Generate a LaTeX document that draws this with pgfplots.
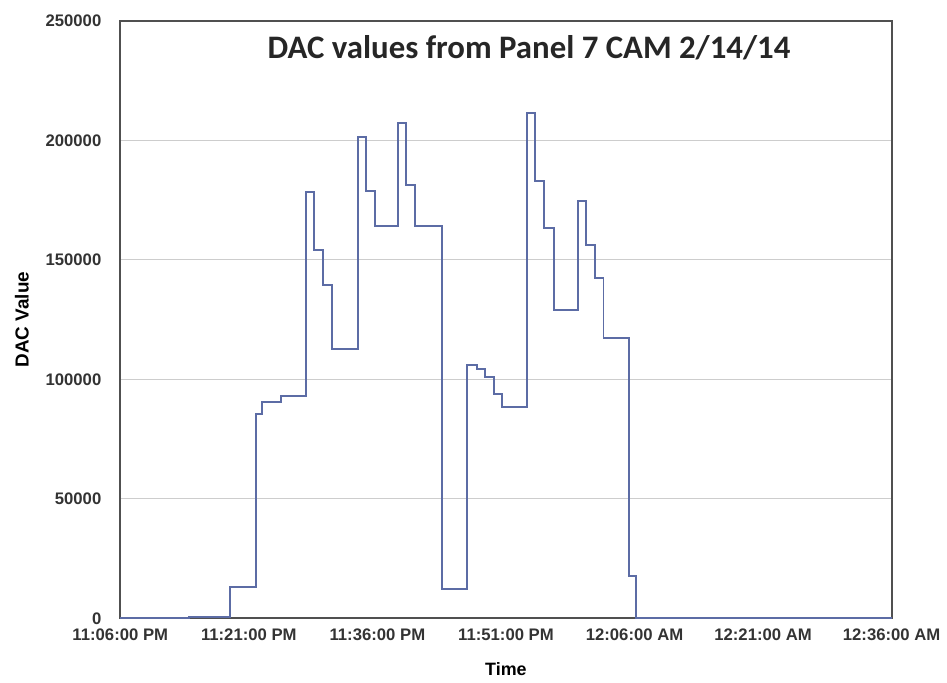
\documentclass[border=0pt]{standalone}
\usepackage{pgfplots}
\pgfplotsset{compat=1.18}
\usepackage{fontspec}
\setmainfont{Liberation Sans}
\newfontfamily\titlefont{Carlito}
\definecolor{dacline}{RGB}{92,108,165}
\definecolor{framegray}{RGB}{80,80,80}
\definecolor{gridgray}{RGB}{205,205,205}
\begin{document}
\begin{tikzpicture}
\begin{axis}[
  scale only axis,
  width=388pt, height=300.5pt,
  xmin=0, xmax=90, ymin=0, ymax=250000,
  xtick={0,15,30,45,60,75,90},
  xticklabels={11:06:00 PM,11:21:00 PM,11:36:00 PM,11:51:00 PM,12:06:00 AM,12:21:00 AM,12:36:00 AM},
  ytick={0,50000,100000,150000,200000,250000},
  yticklabels={0,50000,100000,150000,200000,250000},
  scaled y ticks=false,
  major tick length=0pt,
  ymajorgrids,
  grid style={gridgray, line width=0.5pt},
  axis line style={framegray, line width=1pt},
  xticklabel style={font=\fontsize{8.4}{10}\selectfont\bfseries, text=black!80, yshift=-2pt},
  yticklabel style={font=\fontsize{8.4}{10}\selectfont\bfseries, text=black!80, xshift=-6pt},
  xlabel={Time},
  ylabel={DAC Value},
  xlabel style={font=\fontsize{9}{10}\selectfont\bfseries, at={(axis description cs:0.5,-0.0849)}, anchor=center},
  ylabel style={font=\fontsize{9.5}{10}\selectfont\bfseries, at={(axis description cs:-0.1276,0.5)}, anchor=center},
  clip=false,
]
\addplot[const plot mark left, dacline, line width=1pt, no marks] coordinates {
(0,0) (8.0,500) (12.76,13300) (15.78,85400) (16.59,90400) (18.79,93000)
(21.69,178500) (22.62,154200) (23.67,139600) (24.71,112500)
(27.73,201250) (28.65,178750) (29.70,164200)
(32.37,207100) (33.29,181250) (34.34,164200)
(37.59,12100) (40.49,105800) (41.65,104200) (42.58,100800) (43.62,93750) (44.55,88300)
(47.45,211250) (48.38,183000) (49.42,163300) (50.58,129200)
(53.36,174600) (54.29,156250) (55.34,142500) (56.38,117500)
(59.40,17500) (60.21,0) (90,0)
};
\node[font=\titlefont\fontsize{16.5}{18}\selectfont\bfseries, text=black!85] at (rel axis cs:0.53,1) [yshift=-13.5pt] {DAC values from Panel 7 CAM 2/14/14};
\coordinate (sw) at (rel axis cs:0,0);
\coordinate (ne) at (rel axis cs:1,1);
\end{axis}
\path ([shift={(-60.5pt,-30.5pt)}]sw) rectangle ([shift={(25pt,10.5pt)}]ne);
\end{tikzpicture}
\end{document}
